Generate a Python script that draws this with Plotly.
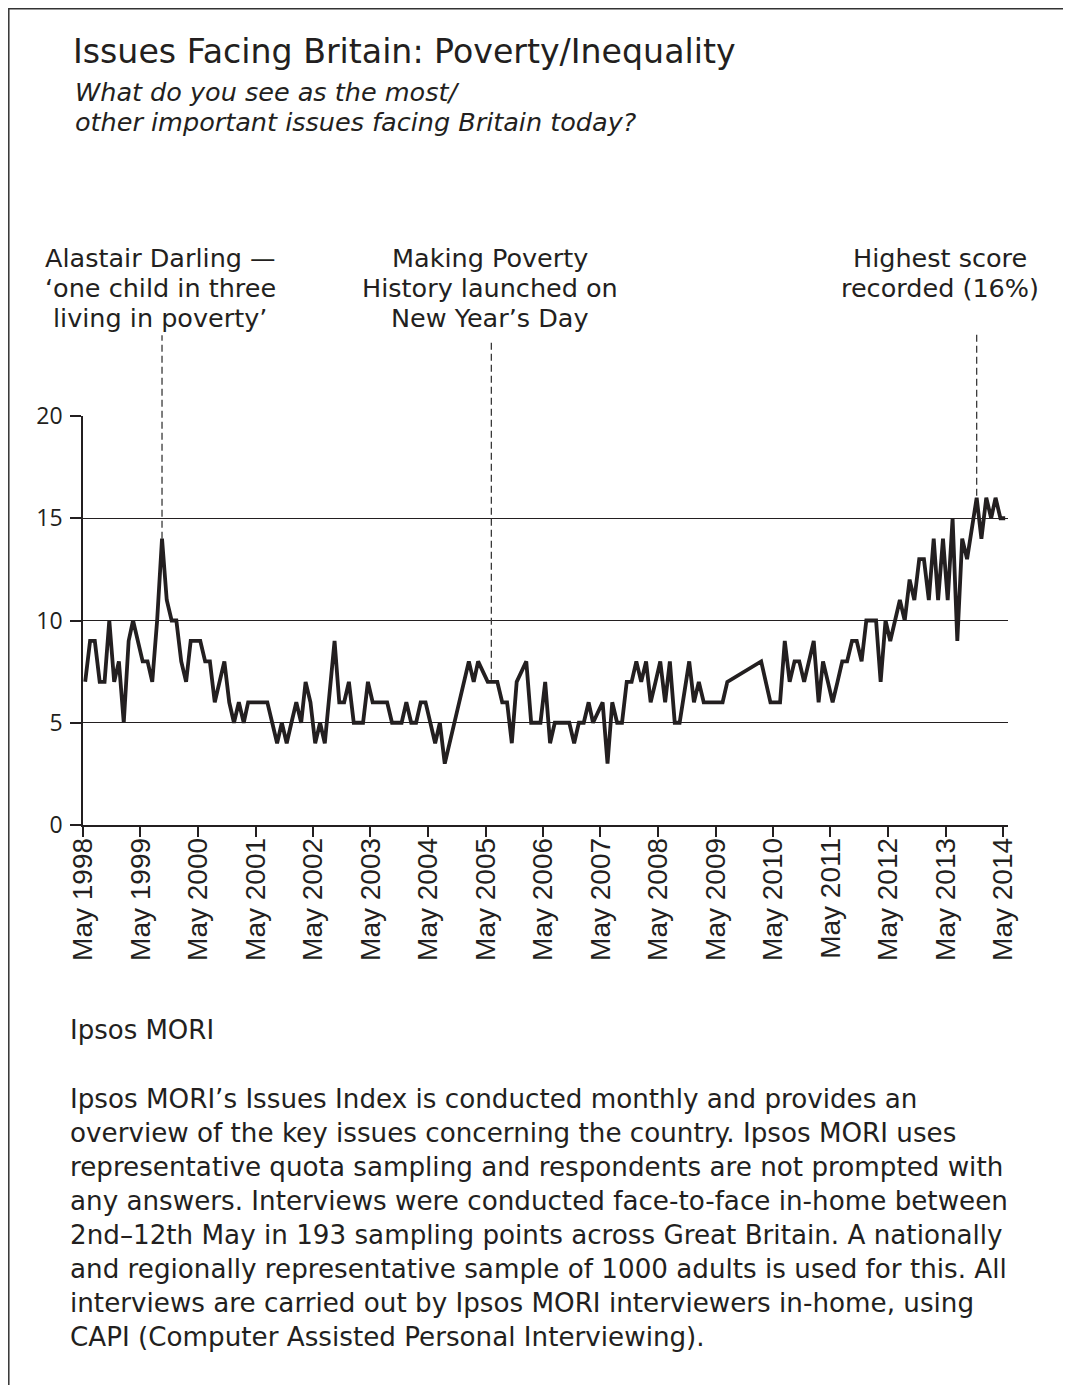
import plotly.graph_objects as go

# ---- data ----
months = [
    "1998-05", "1998-06", "1998-07", "1998-08", "1998-09", "1998-10", "1998-11", "1998-12",
    "1999-01", "1999-02", "1999-03", "1999-04", "1999-05", "1999-06", "1999-07", "1999-08",
    "1999-09", "1999-10", "1999-11", "1999-12", "2000-01", "2000-02", "2000-03", "2000-04",
    "2000-05", "2000-06", "2000-07", "2000-08", "2000-09", "2000-10", "2000-11", "2000-12",
    "2001-01", "2001-02", "2001-03", "2001-04", "2001-05", "2001-06", "2001-07", "2001-08",
    "2001-09", "2001-10", "2001-11", "2001-12", "2002-01", "2002-02", "2002-03", "2002-04",
    "2002-05", "2002-06", "2002-07", "2002-09", "2002-10", "2002-11", "2002-12",
    "2003-01", "2003-02", "2003-03", "2003-04", "2003-05", "2003-06", "2003-07", "2003-08",
    "2003-09", "2003-10", "2003-11", "2003-12", "2004-01", "2004-02", "2004-03", "2004-04",
    "2004-05", "2004-06", "2004-07", "2004-08", "2005-01", "2005-02", "2005-03",
    "2005-05", "2005-06", "2005-07", "2005-08", "2005-09", "2005-10", "2005-11",
    "2006-01", "2006-02", "2006-03", "2006-04", "2006-05", "2006-06", "2006-07", "2006-08",
    "2006-09", "2006-10", "2006-11", "2006-12", "2007-01", "2007-02", "2007-03", "2007-05",
    "2007-06", "2007-07", "2007-08", "2007-09", "2007-10", "2007-11", "2007-12", "2008-01",
    "2008-02", "2008-03", "2008-04", "2008-05", "2008-06", "2008-07", "2008-08", "2008-09",
    "2008-11", "2008-12", "2009-01", "2009-02", "2009-03", "2009-04", "2009-05", "2009-06",
    "2009-07", "2010-02", "2010-04", "2010-05", "2010-06", "2010-07", "2010-08", "2010-09",
    "2010-10", "2010-11", "2011-01", "2011-02", "2011-03", "2011-04", "2011-05", "2011-06",
    "2011-07", "2011-08", "2011-09", "2011-10", "2011-11", "2011-12", "2012-02", "2012-03",
    "2012-04", "2012-05", "2012-06", "2012-07", "2012-08", "2012-09", "2012-10", "2012-11",
    "2012-12", "2013-01", "2013-02", "2013-03", "2013-04", "2013-05", "2013-06", "2013-07",
    "2013-08", "2013-09", "2013-11", "2013-12", "2014-01", "2014-02", "2014-03", "2014-04",
    "2014-05",
]
values = [
    7, 9, 9, 7, 7, 10, 7, 8,
    5, 9, 10, 9, 8, 8, 7, 10,
    14, 11, 10, 10, 8, 7, 9, 9,
    9, 8, 8, 6, 7, 8, 6, 5,
    6, 5, 6, 6, 6, 6, 6, 5,
    4, 5, 4, 5, 6, 5, 7, 6,
    4, 5, 4, 9, 6, 6, 7,
    5, 5, 5, 7, 6, 6, 6, 6,
    5, 5, 5, 6, 5, 5, 6, 6,
    5, 4, 5, 3, 8, 7, 8,
    7, 7, 7, 6, 6, 4, 7,
    8, 5, 5, 5, 7, 4, 5, 5,
    5, 5, 4, 5, 5, 6, 5, 6,
    3, 6, 5, 5, 7, 7, 8, 7,
    8, 6, 7, 8, 6, 8, 5, 5,
    8, 6, 7, 6, 6, 6, 6, 6,
    7, 8, 6, 6, 6, 9, 7, 8,
    8, 7, 9, 6, 8, 7, 6, 7,
    8, 8, 9, 9, 8, 10, 10, 7,
    10, 9, 10, 11, 10, 12, 11, 13,
    13, 11, 14, 11, 14, 11, 15, 9,
    14, 13, 16, 14, 16, 15, 16, 15,
    15,
]
dates = [m + "-15" for m in months]

tick_years = list(range(1998, 2015))
tick_vals = [f"{y}-05-01" for y in tick_years]
tick_text = [f"May {y}" for y in tick_years]
y_ticks = [0, 5, 10, 15, 20]

events = [
    {"date": "1999-09-15", "lines": ["Alastair Darling \u2014", "\u2018one child in three", "living in poverty\u2019"],
     "top": 23.95, "bottom": 14.0, "text_date": "1999-09-05"},
    {"date": "2005-06-07", "lines": ["Making Poverty", "History launched on", "New Year\u2019s Day"],
     "top": 23.7, "bottom": 7.1, "text_date": "2005-06-01"},
    {"date": "2013-11-15", "lines": ["Highest score", "recorded (16%)"],
     "top": 24.1, "bottom": 16.1, "text_date": "2013-03-28"},
]

TXT = "#231f20"
FONT = "DejaVu Sans"
OFF = 8                       # page margin of the browser body
W, H = 1071 - OFF, 1385 - OFF
L, R, T, B = 75, 63, 408, 560
PW = W - L - R
PH = H - T - B
YMAX = 20.0


def py(v):  # data value -> paper y
    return v / YMAX


def pxp(sx):  # screen x -> paper x
    return (sx - OFF - L) / PW


def pyp(sy):  # screen y -> paper y
    return (H - B - (sy - OFF)) / PH


fig = go.Figure()
fig.add_trace(go.Scatter(
    x=dates, y=values, mode="lines",
    line=dict(color=TXT, width=3.8, shape="linear"),
    cliponaxis=False, showlegend=False, hoverinfo="skip",
))

shapes = []
annotations = []
line_y0 = 258
for ev in events:
    shapes.append(dict(type="line", xref="x", yref="paper",
                       x0=ev["date"], x1=ev["date"], y0=py(ev["bottom"]), y1=py(ev["top"]),
                       line=dict(color="#3a3a3a", width=1.3, dash="7px,4px")))
    for i, ln in enumerate(ev["lines"]):
        annotations.append(dict(xref="x", yref="paper", x=ev["text_date"], y=pyp(line_y0 + 30 * i),
                                text=ln, showarrow=False, xanchor="center", yanchor="middle",
                                font=dict(family=FONT, size=25.5, color=TXT)))

# frame around the whole figure
shapes.append(dict(type="rect", xref="paper", yref="paper",
                   x0=pxp(8.8), x1=pxp(1068), y0=pyp(1420), y1=pyp(8.8),
                   line=dict(color="#333333", width=1.5), fillcolor="rgba(0,0,0,0)", layer="below"))

subtitle = ["What do you see as the most/", "other important issues facing Britain today?"]
body = [
    "Ipsos MORI\u2019s Issues Index is conducted monthly and provides an",
    "overview of the key issues concerning the country. Ipsos MORI uses",
    "representative quota sampling and respondents are not prompted with",
    "any answers. Interviews were conducted face-to-face in-home between",
    "2nd\u201312th May in 193 sampling points across Great Britain. A nationally",
    "and regionally representative sample of 1000 adults is used for this. All",
    "interviews are carried out by Ipsos MORI interviewers in-home, using",
    "CAPI (Computer Assisted Personal Interviewing).",
]

annotations.append(dict(xref="paper", yref="paper", x=pxp(71), y=pyp(52), xanchor="left", yanchor="middle",
                        text="Issues Facing Britain: Poverty/Inequality", showarrow=False,
                        font=dict(family=FONT, size=33.2, color=TXT)))
for i, ln in enumerate(subtitle):
    annotations.append(dict(xref="paper", yref="paper", x=pxp(73), y=pyp(92 + 30 * i),
                            xanchor="left", yanchor="middle", text=f"<i>{ln}</i>", showarrow=False,
                            font=dict(family=FONT, size=25.5, color=TXT)))
annotations.append(dict(xref="paper", yref="paper", x=pxp(68), y=pyp(1030), xanchor="left", yanchor="middle",
                        text="Ipsos MORI", showarrow=False, font=dict(family=FONT, size=26, color=TXT)))
for i, ln in enumerate(body):
    annotations.append(dict(xref="paper", yref="paper", x=pxp(68), y=pyp(1099 + 34 * i),
                            xanchor="left", yanchor="middle", text=ln, showarrow=False,
                            font=dict(family=FONT, size=26.2, color=TXT)))

fig.update_layout(
    width=W, height=H,
    margin=dict(l=L, r=R, t=T, b=B, pad=0),
    paper_bgcolor="white", plot_bgcolor="white",
    shapes=shapes, annotations=annotations,
    xaxis=dict(
        type="date", range=["1998-05-01", "2014-06-02"],
        tickmode="array", tickvals=tick_vals, ticktext=tick_text, tickangle=-90,
        ticks="outside", ticklen=10, tickwidth=1.5, tickcolor=TXT,
        showline=True, linecolor=TXT, linewidth=1.5, showgrid=False, zeroline=False,
        tickfont=dict(family="Liberation Sans", size=28, color=TXT),
        ticklabelstandoff=-10,
    ),
    yaxis=dict(
        range=[0, YMAX], tickmode="array", tickvals=y_ticks,
        ticks="outside", ticklen=11, tickwidth=1.5, tickcolor=TXT,
        showline=True, linecolor=TXT, linewidth=1.5,
        showgrid=True, gridcolor=TXT, gridwidth=1.2, zeroline=False,
        tickfont=dict(family="Open Sans", size=23, color=TXT), ticklabelstandoff=3,
    ),
)

fig.write_html("out.html")
